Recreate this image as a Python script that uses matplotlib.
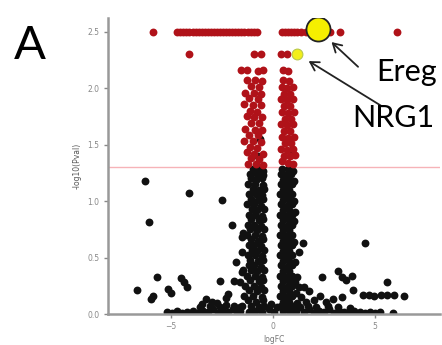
import numpy as np
import matplotlib
matplotlib.use("Agg")
import matplotlib.pyplot as plt

# saturated p-values sit on the top row
top_level = 2.5
top_red_x = [-5.9, -4.7, -4.55, -4.4, -4.25, -4.1, -3.95, -3.8, -3.65, -3.5, -3.35,
             -3.2, -3.05, -2.9, -2.75, -2.6, -2.45, -2.3, -2.15, -2.0, -1.85, -1.7,
             -1.55, -1.4, -1.25, -1.1, -0.95, -0.8, 0.45, 0.6, 0.75, 0.9, 1.05, 1.2,
             1.4, 1.6, 1.8, 2.6, 2.8, 3.3, 6.1]

red_pts = [(-4.1, 2.3), (-0.95, 2.3), (-0.6, 2.3), (0.4, 2.3), (0.7, 2.3),
           (-1.55, 2.16), (-1.3, 2.16), (-0.75, 2.15), (-0.5, 2.16), (0.5, 2.16), (0.75, 2.15),
           (-1.3, 2.07), (-0.9, 2.07), (-0.55, 2.06), (-1.1, 2.02), (-0.7, 2.01),
           (-1.35, 1.96), (-0.95, 1.96), (-0.6, 1.95), (-1.2, 1.91), (-0.75, 1.90),
           (-1.4, 1.86), (-1.0, 1.85), (-0.6, 1.85), (-1.15, 1.80), (-0.8, 1.79),
           (-1.3, 1.75), (-0.95, 1.74), (-0.55, 1.74), (-1.1, 1.69), (-0.7, 1.69),
           (-1.35, 1.64), (-0.9, 1.63), (-0.55, 1.63), (-1.2, 1.58), (-0.75, 1.58),
           (-1.4, 1.53), (-1.0, 1.53), (-0.6, 1.52), (-1.15, 1.48), (-0.8, 1.47),
           (-1.3, 1.43), (-0.95, 1.42), (-0.5, 1.42), (-1.1, 1.38), (-0.7, 1.37),
           (-1.25, 1.33), (-0.85, 1.33), (-0.5, 1.32),
           (0.5, 2.07), (0.8, 2.06), (0.45, 2.01), (0.7, 2.0), (1.0, 2.01),
           (0.55, 1.95), (0.85, 1.95), (0.4, 1.9), (0.7, 1.89), (1.0, 1.9),
           (0.55, 1.84), (0.85, 1.84), (0.45, 1.79), (0.75, 1.78), (1.05, 1.79),
           (0.6, 1.73), (0.9, 1.73), (0.4, 1.68), (0.7, 1.67), (1.0, 1.68),
           (0.55, 1.62), (0.85, 1.62), (0.45, 1.57), (0.75, 1.56), (1.05, 1.57),
           (0.6, 1.51), (0.9, 1.51), (0.4, 1.46), (0.7, 1.45), (1.0, 1.46),
           (0.55, 1.4), (0.85, 1.4), (1.1, 1.41), (0.45, 1.35), (0.75, 1.34), (1.0, 1.33)]

left_col = [(-1.0, 1.28), (-0.7, 1.28), (-0.5, 1.27), (-1.15, 1.24), (-0.8, 1.24), (-0.5, 1.23),
            (-1.1, 1.20), (-0.85, 1.19), (-0.55, 1.20), (-1.25, 1.15), (-0.9, 1.15), (-0.5, 1.14),
            (-1.0, 1.11), (-0.7, 1.10), (-0.45, 1.11), (-1.2, 1.06), (-0.85, 1.06), (-0.55, 1.05),
            (-1.1, 1.02), (-0.75, 1.01), (-0.5, 1.02), (-1.3, 0.97), (-0.95, 0.97), (-0.6, 0.96),
            (-1.05, 0.93), (-0.8, 0.92), (-0.45, 0.93), (-1.2, 0.88), (-0.9, 0.88), (-0.55, 0.87),
            (-1.1, 0.84), (-0.7, 0.83), (-0.5, 0.84), (-1.25, 0.79), (-0.95, 0.79), (-0.6, 0.78),
            (-1.15, 0.75), (-0.8, 0.74), (-0.45, 0.75), (-1.3, 0.70), (-0.9, 0.70), (-0.55, 0.69),
            (-1.1, 0.66), (-0.75, 0.65), (-0.5, 0.66), (-1.2, 0.61), (-0.95, 0.61), (-0.6, 0.60),
            (-1.05, 0.57), (-0.8, 0.56), (-0.45, 0.57), (-1.25, 0.52), (-0.9, 0.52), (-0.55, 0.51),
            (-1.15, 0.48), (-0.75, 0.47), (-0.5, 0.48), (-1.2, 0.43), (-0.95, 0.43), (-0.6, 0.42),
            (-1.1, 0.39), (-0.8, 0.38), (-0.45, 0.39), (-1.3, 0.34), (-0.9, 0.34), (-0.55, 0.33),
            (-1.15, 0.30), (-0.7, 0.29), (-0.5, 0.30), (-1.35, 0.25), (-0.95, 0.25), (-0.6, 0.24),
            (-1.2, 0.21), (-0.8, 0.20), (-0.45, 0.21), (-1.4, 0.16), (-1.0, 0.16), (-0.55, 0.15),
            (-1.25, 0.12), (-0.85, 0.11), (-0.5, 0.12), (-1.5, 0.07), (-1.1, 0.07), (-0.7, 0.06),
            (-0.45, 0.07), (-1.6, 0.03), (-1.2, 0.02), (-0.9, 0.03), (-0.55, 0.02),
            (-0.65, 1.55), (-0.75, 1.4)]

right_col = [(0.45, 1.28), (0.75, 1.28), (1.0, 1.27), (0.4, 1.24), (0.65, 1.23), (0.9, 1.24),
             (0.5, 1.19), (0.8, 1.19), (1.05, 1.18), (0.4, 1.15), (0.7, 1.14), (0.95, 1.15),
             (0.5, 1.10), (0.8, 1.10), (0.35, 1.06), (0.65, 1.05), (0.95, 1.06),
             (0.5, 1.01), (0.8, 1.01), (1.05, 1.0), (0.4, 0.97), (0.7, 0.96), (0.95, 0.97),
             (0.5, 0.92), (0.8, 0.92), (0.35, 0.88), (0.65, 0.87), (0.95, 0.88),
             (0.5, 0.83), (0.8, 0.83), (1.05, 0.82), (0.4, 0.79), (0.7, 0.78), (0.95, 0.79),
             (0.5, 0.74), (0.8, 0.74), (0.35, 0.70), (0.65, 0.69), (0.95, 0.70),
             (0.5, 0.65), (0.8, 0.65), (1.05, 0.64), (0.4, 0.61), (0.7, 0.60), (0.95, 0.61),
             (0.5, 0.56), (0.8, 0.56), (0.35, 0.52), (0.65, 0.51), (0.95, 0.52),
             (0.5, 0.47), (0.8, 0.47), (1.1, 0.46), (0.4, 0.43), (0.7, 0.42), (0.95, 0.43),
             (0.5, 0.38), (0.8, 0.38), (0.35, 0.34), (0.65, 0.33), (0.95, 0.34), (1.2, 0.33),
             (0.5, 0.29), (0.8, 0.29), (1.1, 0.28), (0.4, 0.25), (0.7, 0.24), (0.95, 0.25),
             (1.3, 0.24), (0.5, 0.2), (0.8, 0.2), (1.15, 0.19), (0.35, 0.16), (0.65, 0.15),
             (0.95, 0.16), (1.4, 0.15), (0.5, 0.11), (0.8, 0.11), (1.2, 0.1), (1.6, 0.11),
             (0.4, 0.07), (0.7, 0.06), (1.0, 0.07), (1.35, 0.06), (0.5, 0.03), (0.85, 0.02),
             (1.15, 0.03), (0.5, 1.91), (0.95, 1.45),
             (-0.2, 0.04), (0.05, 0.02), (0.2, 0.06), (-0.1, 0.09)]

bottom_band = [(-5.2, 0.02), (-4.95, 0.01), (-4.7, 0.03), (-4.45, 0.01), (-4.2, 0.02),
               (-3.95, 0.03), (-3.7, 0.01), (-3.45, 0.03), (-3.2, 0.02), (-2.95, 0.04),
               (-2.7, 0.01), (-2.45, 0.03), (-2.2, 0.02), (-1.95, 0.04), (-1.75, 0.02),
               (1.5, 0.02), (1.75, 0.04), (2.0, 0.01), (2.25, 0.03), (2.5, 0.02), (2.75, 0.04),
               (3.0, 0.01), (3.25, 0.03), (3.5, 0.02), (3.75, 0.01), (4.0, 0.03), (4.25, 0.02),
               (4.5, 0.01), (4.75, 0.02), (5.0, 0.01), (5.25, 0.02),
               (-3.6, 0.06), (-3.1, 0.07), (-2.6, 0.06), (-2.3, 0.08), (-1.9, 0.07), (-1.6, 0.06),
               (1.7, 0.07), (2.1, 0.06), (2.7, 0.07), (3.2, 0.06), (3.8, 0.05)]

outliers = [(-6.3, 1.18), (-4.1, 1.07), (-2.5, 1.01), (-6.1, 0.81), (-2.0, 0.79), (-1.45, 0.72),
            (-1.5, 0.68), (-1.8, 0.46), (-1.45, 0.39), (-1.5, 0.55), (-5.7, 0.33), (-4.5, 0.32),
            (-4.35, 0.28), (-4.2, 0.24), (-6.7, 0.21), (-5.9, 0.16), (-6.0, 0.13), (-5.15, 0.22),
            (-5.0, 0.19), (-2.6, 0.29), (-1.9, 0.29), (-1.6, 0.28), (-1.5, 0.37), (-2.2, 0.18),
            (-2.3, 0.14), (-3.3, 0.13), (-3.0, 0.11), (-3.5, 0.09), (-2.75, 0.1),
            (4.5, 0.63), (1.45, 0.63), (1.1, 0.9), (1.3, 0.55), (2.4, 0.33), (3.2, 0.38),
            (3.4, 0.33), (3.6, 0.30), (3.9, 0.34), (5.6, 0.28), (4.4, 0.17), (4.7, 0.17),
            (4.95, 0.16), (5.3, 0.17), (5.6, 0.17), (5.95, 0.17), (6.45, 0.16), (3.95, 0.21),
            (5.9, 0.01), (1.5, 0.24), (1.75, 0.2), (2.3, 0.16), (2.95, 0.13), (3.4, 0.15),
            (2.0, 0.12), (2.6, 0.11)]

ereg = (2.2, 2.52)
nrg1 = (1.2, 2.3)
cutoff = -np.log10(0.05)

x_ticks = [-5, 0, 5]
y_ticks = [0.0, 0.5, 1.0, 1.5, 2.0, 2.5]

W, H = 442, 345
fig = plt.figure(figsize=(W / 100, H / 100), dpi=100)
ax = fig.add_axes([108 / W, 31 / H, 332 / W, 296 / H])

black = np.array(left_col + right_col + bottom_band + outliers)
red = np.array(red_pts)
dot = 32
ax.scatter(black[:, 0], black[:, 1], s=dot, c="#111111", linewidths=0, zorder=2)
ax.scatter(top_red_x, np.full(len(top_red_x), top_level), s=dot, c="#b01219", linewidths=0, zorder=3)
ax.scatter(red[:, 0], red[:, 1], s=dot, c="#b01219", linewidths=0, zorder=3)
ax.axhline(cutoff, color="#f6b3b8", lw=1, zorder=1)

ax.scatter([ereg[0]], [ereg[1]], s=300, c="#f5ef00", edgecolors="#222222", linewidths=1.3, zorder=5)
ax.scatter([nrg1[0]], [nrg1[1]], s=60, c="#f2ee1a", edgecolors="#b8c84a", linewidths=0.8, zorder=5)

arrow = dict(arrowstyle="->,head_length=0.6,head_width=0.35", color="#222222", lw=1.3, shrinkA=0)
ax.annotate("", xy=ereg, xytext=(29, -27), textcoords="offset points",
            arrowprops=dict(arrow, shrinkB=13.5), annotation_clip=False)
ax.annotate("", xy=nrg1, xytext=(60, -37), textcoords="offset points",
            arrowprops=dict(arrow, shrinkB=9.5), annotation_clip=False)

ax.set_xlim(-8.1, 8.2)
ax.set_ylim(0, 2.62)
ax.set_xticks(x_ticks)
ax.set_yticks(y_ticks)
ax.set_yticklabels([f"{v:.1f}" for v in y_ticks])
ax.tick_params(labelsize=5.5, colors="#888888", length=3, width=1, pad=3)
for side in ["top", "right"]:
    ax.spines[side].set_visible(False)
for side in ["left", "bottom"]:
    ax.spines[side].set_color("#999999")
    ax.spines[side].set_linewidth(1.8)
ax.set_xlabel("logFC", fontsize=5.5, color="#777777", labelpad=3)
ax.set_ylabel("-log10(Pval)", fontsize=5.5, color="#555555", labelpad=4)

big = ["Lato", "DejaVu Sans"]
fig.text(14 / W, 1 - 46 / H, "A", fontsize=34, family=big, ha="left", va="center")
fig.text(376 / W, 1 - 72 / H, "Ereg", fontsize=22, family=big, ha="left", va="center")
fig.text(352 / W, 1 - 118 / H, "NRG1", fontsize=22, family=big, ha="left", va="center")

fig.savefig("out.png", dpi=100)
